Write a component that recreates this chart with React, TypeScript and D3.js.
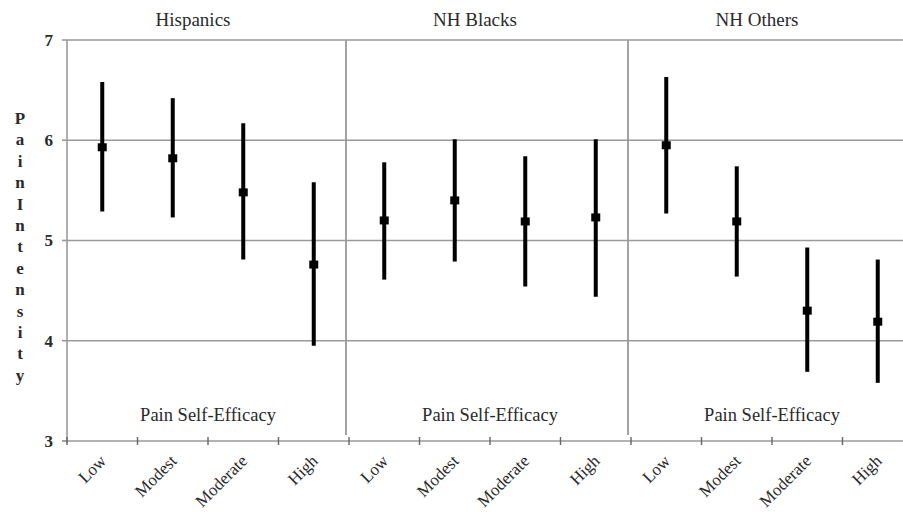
import React from 'react';
import * as d3 from 'd3';

const panels = ['Hispanics', 'NH Blacks', 'NH Others'];
const levels = ['Low', 'Modest', 'Moderate', 'High'];
const means = [
  [5.93, 5.82, 5.48, 4.76],
  [5.2, 5.4, 5.19, 5.23],
  [5.95, 5.19, 4.3, 4.19],
];
const upper = [
  [6.58, 6.42, 6.17, 5.58],
  [5.78, 6.01, 5.84, 6.01],
  [6.63, 5.74, 4.93, 4.81],
];
const lower = [
  [5.29, 5.23, 4.81, 3.95],
  [4.61, 4.79, 4.54, 4.44],
  [5.27, 4.64, 3.69, 3.58],
];
const yTicks = [3, 4, 5, 6, 7];
const yLabel = 'Pain Intensity';
const xAxisTitle = 'Pain Self-Efficacy';

const W = 903;
const H = 512;
const font = "'Liberation Serif', 'DejaVu Serif', serif";
const gridColor = '#9a9a9a';
const textColor = '#2a2a2a';

const App = () => {
  const keys = d3.range(panels.length * levels.length);
  const x = d3.scaleBand<number>().domain(keys).range([67, 913]).padding(0);
  const y = d3.scaleLinear().domain([3, 7]).range([441, 40]);
  const bw = x.bandwidth();
  const cx = (p: number, i: number) => (x(p * levels.length + i) ?? 0) + bw / 2;
  const panelCenter = (p: number) => (cx(p, 0) + cx(p, levels.length - 1)) / 2;

  const points = panels.flatMap((name, p) =>
    levels.map((lvl, i) => ({
      p,
      i,
      mean: means[p][i],
      hi: upper[p][i],
      lo: lower[p][i],
    }))
  );

  const letters = yLabel.replace(/\s/g, '').split('');
  const txt = { fontFamily: font };

  return (
    <svg
      width={W}
      height={H}
      style={{ position: 'absolute', left: 0, top: 0, background: '#fff', fontFamily: font }}
    >
      <rect width={W} height={H} fill="#fff" />

      {/* horizontal gridlines */}
      {yTicks.filter((t) => t > 3).map((t) => (
        <line key={t} x1={67} x2={W} y1={y(t)} y2={y(t)} stroke={gridColor} strokeWidth={1.6} />
      ))}

      {/* left axis */}
      <line x1={67} x2={67} y1={y(7)} y2={y(3) + 2} stroke={gridColor} strokeWidth={1.6} />
      {yTicks.map((t) => (
        <g key={t}>
          <line x1={62} x2={67} y1={y(t)} y2={y(t)} stroke={gridColor} strokeWidth={1.6} />
          <text
            x={53}
            y={y(t)}
            dy="0.35em"
            textAnchor="end"
            fontSize={17}
            fontWeight="bold"
            fill={textColor}
            style={txt}
          >
            {t}
          </text>
        </g>
      ))}

      {/* bottom axis */}
      <line x1={62} x2={W} y1={y(3)} y2={y(3)} stroke={gridColor} strokeWidth={1.6} />
      {keys.map((k) => (
        <line
          key={k}
          x1={x(k) ?? 0}
          x2={x(k) ?? 0}
          y1={y(3) - 4}
          y2={y(3) + 4}
          stroke="#666"
          strokeWidth={1.4}
        />
      ))}

      {/* panel separators */}
      {panels.slice(1).map((_, j) => {
        const bx = (x((j + 1) * levels.length) ?? 0) - 3;
        return (
          <line key={j} x1={bx} x2={bx} y1={y(7)} y2={435} stroke={gridColor} strokeWidth={1.8} />
        );
      })}

      {/* panel titles and inner x titles */}
      {panels.map((name, p) => (
        <g key={name}>
          <text x={panelCenter(p) - 15} y={26} textAnchor="middle" fontSize={19} fill={textColor} style={txt}>
            {name}
          </text>
          <text x={panelCenter(p)} y={421} textAnchor="middle" fontSize={18.5} fill={textColor} style={txt}>
            {xAxisTitle}
          </text>
        </g>
      ))}

      {/* error bars */}
      {points.map((d) => (
        <g key={`${d.p}-${d.i}`}>
          <line
            x1={cx(d.p, d.i)}
            x2={cx(d.p, d.i)}
            y1={y(d.hi)}
            y2={y(d.lo)}
            stroke="#000"
            strokeWidth={4}
          />
          <rect x={cx(d.p, d.i) - 4.5} y={y(d.mean) - 4} width={9} height={8} fill="#000" />
        </g>
      ))}

      {/* rotated category labels */}
      {points.map((d) => (
        <text
          key={`l-${d.p}-${d.i}`}
          transform={`translate(${cx(d.p, d.i) + 5},${y(3) + 21}) rotate(-45)`}
          textAnchor="end"
          fontSize={17}
          fill={textColor}
          style={txt}
        >
          {levels[d.i]}
        </text>
      ))}

      {/* vertical y label, one letter per line */}
      {letters.map((c, i) => (
        <text
          key={i}
          x={20}
          y={118 + i * 21.4}
          dy="0.35em"
          textAnchor="middle"
          fontSize={17}
          fontWeight="bold"
          fill={textColor}
          style={txt}
        >
          {c}
        </text>
      ))}
    </svg>
  );
};

export default App;
